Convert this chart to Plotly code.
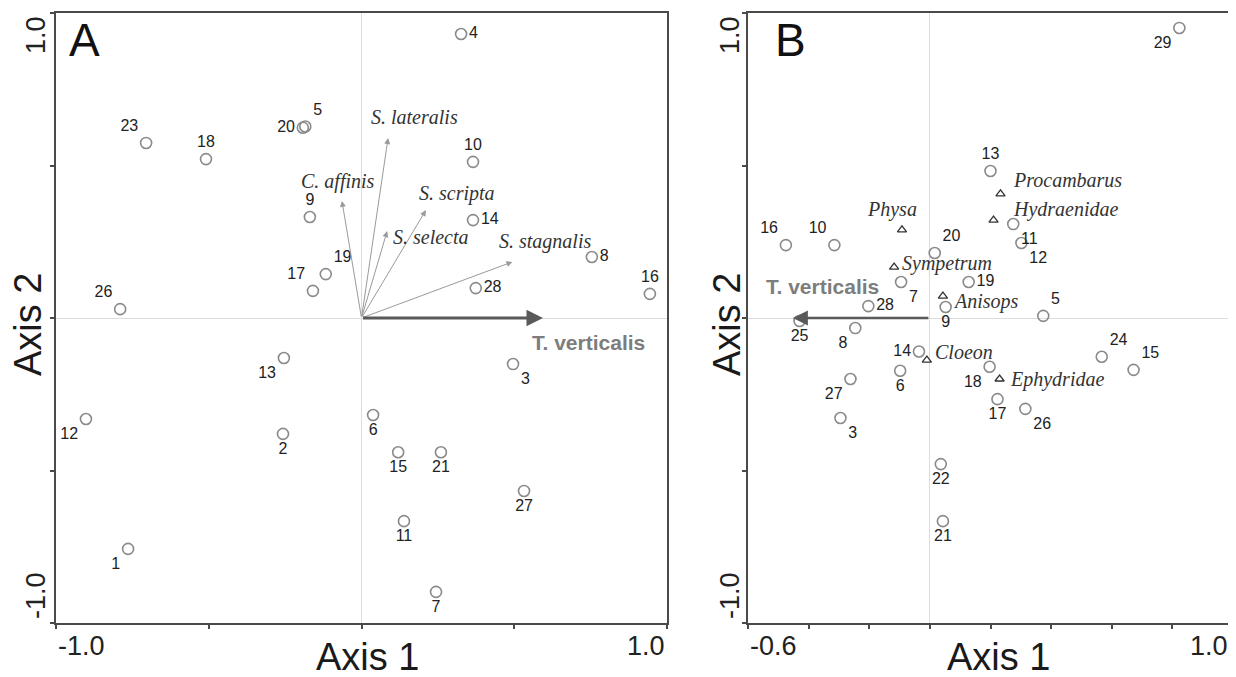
import plotly.graph_objects as go

# ---------------- Panel A data ----------------
A_sites = ["1", "2", "3", "4", "5", "6", "7", "8", "9", "10", "11", "12", "13",
           "14", "15", "16", "17", "18", "19", "20", "21", "23", "26", "27", "28"]
A_x = [-0.764, -0.257, 0.496, 0.326, -0.184, 0.038, 0.244, 0.754, -0.169, 0.365,
       0.139, -0.902, -0.254, 0.365, 0.120, 0.944, -0.159, -0.509, -0.117, -0.192,
       0.260, -0.705, -0.790, 0.532, 0.374]
A_y = [-0.757, -0.380, -0.151, 0.931, 0.628, -0.318, -0.898, 0.200, 0.331, 0.512,
       -0.666, -0.331, -0.131, 0.321, -0.440, 0.079, 0.089, 0.521, 0.144, 0.624,
       -0.440, 0.574, 0.029, -0.567, 0.098]
A_label_pos = ["bottom left", "bottom center", "bottom right", "middle right", "top right",
               "bottom center", "bottom center", "middle right", "top center", "top center",
               "bottom center", "bottom left", "bottom left", "middle right", "bottom center",
               "top center", "top left", "top center", "top right", "middle left",
               "bottom center", "top left", "top left", "bottom center", "middle right"]

A_species = ["S. lateralis", "C. affinis", "S. scripta", "S. selecta", "S. stagnalis"]
A_sp_x = [0.087, -0.064, 0.211, 0.084, 0.494]
A_sp_y = [0.590, 0.384, 0.354, 0.285, 0.184]

A_env = "T. verticalis"
A_env_x = 0.594
A_env_y = 0.0

# ---------------- Panel B data ----------------
B_sites = ["3", "5", "6", "7", "8", "9", "10", "11", "12", "13", "14", "15", "16",
           "17", "18", "19", "20", "21", "22", "24", "25", "26", "27", "28", "29"]
B_x = [-0.295, 0.374, -0.098, -0.095, -0.246, 0.052, -0.315, 0.275, 0.302, 0.200,
       -0.036, 0.672, -0.475, 0.223, 0.197, 0.128, 0.016, 0.043, 0.036, 0.567,
       -0.430, 0.315, -0.262, -0.203, 0.823]
B_y = [-0.328, 0.007, -0.173, 0.118, -0.033, 0.036, 0.239, 0.308, 0.246, 0.482,
       -0.110, -0.170, 0.239, -0.266, -0.160, 0.118, 0.213, -0.666, -0.479, -0.127,
       -0.010, -0.298, -0.200, 0.039, 0.951]
B_label_pos = ["bottom right", "top right", "bottom center", "bottom right", "bottom left",
               "bottom center", "top left", "bottom right", "bottom right", "top center",
               "middle left", "top right", "top left", "bottom center", "bottom left",
               "middle right", "top right", "bottom center", "bottom center", "top right",
               "bottom center", "bottom right", "bottom left", "middle right", "bottom left"]

B_taxa = ["Physa", "Sympetrum", "Anisops", "Procambarus", "Hydraenidae", "Cloeon", "Ephydridae"]
B_tx_x = [-0.092, -0.118, 0.043, 0.233, 0.210, -0.010, 0.230]
B_tx_y = [0.289, 0.167, 0.072, 0.407, 0.321, -0.138, -0.200]

B_env = "T. verticalis"
B_env_x = -0.452
B_env_y = 0.0

# tick labels
A_xtick_vals = [-1.0, -0.5, 0.0, 0.5, 1.0]
B_xtick_vals = [-0.6, -0.4, -0.2, 0.0, 0.2, 0.4, 0.6, 0.8, 1.0]
Y_tick_vals = [-1.0, -0.5, 0.0, 0.5, 1.0]

# ---------------- styling ----------------
W, H = 1236, 677
OFF = 8  # page body margin in the browser


def px(v):
    return (v - OFF) / W


def py(v):
    return 1 - (v - OFF) / H


SANS = "Liberation Sans, Arial, sans-serif"
SERIF = "Liberation Serif, Times New Roman, serif"
FRAME = "#4a4a4a"
CIRCLE = "#8a8a8a"
NUM_FONT = dict(family=SANS, size=16, color="#222222")
SP_FONT = dict(family=SERIF, size=20, color="#333333")

fig = go.Figure()

# Panel A sites
fig.add_trace(go.Scatter(
    x=A_x, y=A_y, mode="markers+text", text=A_sites, textposition=A_label_pos,
    textfont=NUM_FONT,
    marker=dict(symbol="circle-open", size=11, color=CIRCLE, line=dict(width=1.6)),
    xaxis="x", yaxis="y", showlegend=False, hoverinfo="skip"))

# Panel B sites
fig.add_trace(go.Scatter(
    x=B_x, y=B_y, mode="markers+text", text=B_sites, textposition=B_label_pos,
    textfont=NUM_FONT,
    marker=dict(symbol="circle-open", size=11, color=CIRCLE, line=dict(width=1.6)),
    xaxis="x2", yaxis="y2", showlegend=False, hoverinfo="skip"))

# Panel B taxa (triangles)
fig.add_trace(go.Scatter(
    x=B_tx_x, y=B_tx_y, mode="markers",
    marker=dict(symbol="triangle-up-open", size=8, color="#333333", line=dict(width=1.3)),
    xaxis="x2", yaxis="y2", showlegend=False, hoverinfo="skip"))

annotations = []

# species arrows in A
for sx, sy in zip(A_sp_x, A_sp_y):
    annotations.append(dict(
        x=sx, y=sy, ax=0, ay=0, xref="x", yref="y", axref="x", ayref="y",
        text="", showarrow=True, arrowhead=2, arrowsize=1.2, arrowwidth=1,
        arrowcolor="#9a9a9a"))

# species labels in A (anchored at arrow tips)
A_sp_anchor = [
    dict(xanchor="center", yanchor="bottom", xshift=26, yshift=8),
    dict(xanchor="center", yanchor="bottom", xshift=-4, yshift=6),
    dict(xanchor="left", yanchor="bottom", xshift=-9, yshift=3),
    dict(xanchor="left", yanchor="middle", xshift=4, yshift=-6),
    dict(xanchor="left", yanchor="bottom", xshift=-15, yshift=7),
]
for name, sx, sy, anc in zip(A_species, A_sp_x, A_sp_y, A_sp_anchor):
    annotations.append(dict(x=sx, y=sy, xref="x", yref="y", text="<i>%s</i>" % name,
                            showarrow=False, font=SP_FONT, **anc))

# environmental arrows
ENV_FONT = dict(family=SANS, size=21, color="#7d7d7d")
annotations.append(dict(
    x=A_env_x, y=A_env_y, ax=0, ay=0, xref="x", yref="y", axref="x", ayref="y",
    text="", showarrow=True, arrowhead=2, arrowsize=1.1, arrowwidth=3, arrowcolor="#5a5a5a"))
annotations.append(dict(x=A_env_x, y=A_env_y, xref="x", yref="y", text="<b>%s</b>" % A_env,
                        showarrow=False, xanchor="left", yanchor="top", xshift=-13, yshift=-11,
                        font=ENV_FONT))

annotations.append(dict(
    x=B_env_x, y=B_env_y, ax=0, ay=0, xref="x2", yref="y2", axref="x2", ayref="y2",
    text="", showarrow=True, arrowhead=2, arrowsize=1.2, arrowwidth=2.5, arrowcolor="#5a5a5a"))
annotations.append(dict(x=B_env_x, y=B_env_y, xref="x2", yref="y2", text="<b>%s</b>" % B_env,
                        showarrow=False, xanchor="center", yanchor="bottom", xshift=30, yshift=18,
                        font=ENV_FONT))

# taxa labels in B
B_tx_anchor = [
    dict(xanchor="center", yanchor="bottom", xshift=-10, yshift=7),
    dict(xanchor="left", yanchor="middle", xshift=6, yshift=4),
    dict(xanchor="left", yanchor="middle", xshift=8, yshift=-5),
    dict(xanchor="left", yanchor="middle", xshift=10, yshift=14),
    dict(xanchor="left", yanchor="middle", xshift=17, yshift=11),
    dict(xanchor="left", yanchor="middle", xshift=6, yshift=8),
    dict(xanchor="left", yanchor="middle", xshift=8, yshift=0),
]
for name, tx, ty, anc in zip(B_taxa, B_tx_x, B_tx_y, B_tx_anchor):
    annotations.append(dict(x=tx, y=ty, xref="x2", yref="y2", text="<i>%s</i>" % name,
                            showarrow=False, font=SP_FONT, **anc))

# tick labels (only end values shown)
TICK_FONT = dict(family=SANS, size=27, color="#222222")
ytick_y = py(646)
annotations += [
    dict(xref="x domain", yref="paper", x=0, y=ytick_y, xanchor="left", yanchor="middle",
         text="%.1f" % A_xtick_vals[0], showarrow=False, font=TICK_FONT),
    dict(xref="x domain", yref="paper", x=1, y=ytick_y, xanchor="right", yanchor="middle",
         text="%.1f" % A_xtick_vals[-1], showarrow=False, font=TICK_FONT),
    dict(xref="x2 domain", yref="paper", x=0, y=ytick_y, xanchor="left", yanchor="middle",
         text="%.1f" % B_xtick_vals[0], showarrow=False, font=TICK_FONT),
    dict(xref="x2 domain", yref="paper", x=1, y=ytick_y, xanchor="right", yanchor="middle",
         xshift=-3, text="%.1f" % B_xtick_vals[-1], showarrow=False, font=TICK_FONT),
]
for tx_px in (36, 730):
    annotations += [
        dict(xref="paper", yref="paper", x=px(tx_px), y=py(35), xanchor="center",
             yanchor="middle", textangle=-90, text="%.1f" % Y_tick_vals[-1],
             showarrow=False, font=TICK_FONT),
        dict(xref="paper", yref="paper", x=px(tx_px), y=py(596), xanchor="center",
             yanchor="middle", textangle=-90, text="%.1f" % Y_tick_vals[0],
             showarrow=False, font=TICK_FONT),
    ]

# axis titles
TITLE_FONT = dict(family=SANS, size=38, color="#1a1a1a")
annotations += [
    dict(xref="paper", yref="paper", x=px(367), y=py(657), text="Axis 1",
         showarrow=False, font=TITLE_FONT, xanchor="center", yanchor="middle"),
    dict(xref="paper", yref="paper", x=px(998), y=py(657), text="Axis 1",
         showarrow=False, font=TITLE_FONT, xanchor="center", yanchor="middle"),
    dict(xref="paper", yref="paper", x=px(28), y=py(325), text="Axis 2", textangle=-90,
         showarrow=False, font=TITLE_FONT, xanchor="center", yanchor="middle"),
    dict(xref="paper", yref="paper", x=px(727), y=py(325), text="Axis 2", textangle=-90,
         showarrow=False, font=TITLE_FONT, xanchor="center", yanchor="middle"),
]

# panel letters
LETTER_FONT = dict(family=SANS, size=46, color="#111111")
annotations += [
    dict(xref="paper", yref="paper", x=px(84), y=py(40), text="A", showarrow=False,
         font=LETTER_FONT, xanchor="center", yanchor="middle"),
    dict(xref="paper", yref="paper", x=px(790), y=py(40), text="B", showarrow=False,
         font=LETTER_FONT, xanchor="center", yanchor="middle"),
]

axis_common = dict(showgrid=False, zeroline=True, zerolinecolor="#dcdcdc", zerolinewidth=1,
                   showline=True, mirror=True, linecolor=FRAME, linewidth=2,
                   ticks="outside", ticklen=4, tickcolor=FRAME, tickwidth=1.5,
                   showticklabels=False, fixedrange=True)

ybot, ytop = py(623), py(13)
fig.update_layout(
    width=W, height=H,
    margin=dict(l=0, r=0, t=0, b=0),
    paper_bgcolor="white", plot_bgcolor="white",
    xaxis=dict(domain=[px(56), px(667)], range=[-1, 1], tickvals=A_xtick_vals,
               anchor="y", **axis_common),
    yaxis=dict(domain=[ybot, ytop], range=[-1, 1], tickvals=Y_tick_vals,
               anchor="x", **axis_common),
    xaxis2=dict(domain=[px(748), px(1233)], range=[-0.6, 1.0], tickvals=B_xtick_vals,
                anchor="y2", **axis_common),
    yaxis2=dict(domain=[ybot, ytop], range=[-1, 1], tickvals=Y_tick_vals,
                anchor="x2", **axis_common),
    annotations=annotations,
    showlegend=False,
)

fig.write_html("out.html")
